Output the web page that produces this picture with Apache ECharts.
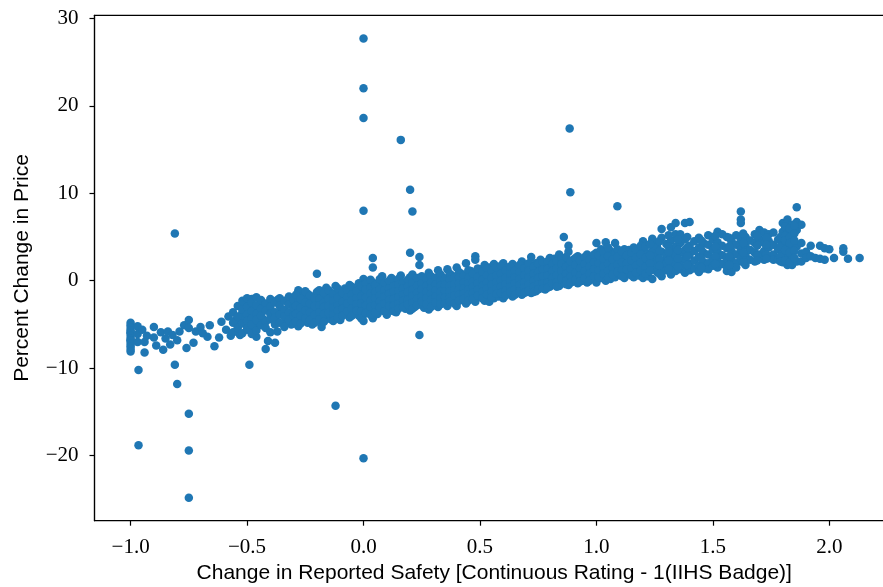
<!DOCTYPE html>
<html>
<head>
<meta charset="utf-8">
<script src="https://cdn.jsdelivr.net/npm/echarts@6/dist/echarts.min.js"></script>
<style>
html,body{margin:0;padding:0;background:#fff;}
#chart{width:883px;height:587px;}
</style>
</head>
<body>
<div id="chart"></div>
<script>
// ---- data ----
const xTicks = [-1.0, -0.5, 0.0, 0.5, 1.0, 1.5, 2.0];
const yTicks = [-20, -10, 0, 10, 20, 30];
const xTitle = 'Change in Reported Safety [Continuous Rating - 1(IIHS Badge)]';
const yTitle = 'Percent Change in Price';

// points sitting exactly at x = -1.0
const columnX = -1.0;
const columnY = [-4.8,-5.1,-5.4,-5.7,-5.9,-6.0,-6.3,-6.6,-6.8,-6.9,-7.2,-7.5,-7.8,-8.1];

// sparse left part of the cloud [x, y]
const leftPoints = [
[-0.97,-5.2],[-0.97,-6.1],[-0.97,-7.0],[-0.95,-5.6],[-0.94,-7.0],[-0.94,-8.2],[-0.93,-6.3],
[-0.90,-5.3],[-0.90,-6.5],[-0.89,-7.4],[-0.87,-5.9],[-0.86,-7.9],[-0.85,-6.6],[-0.84,-5.8],
[-0.83,-7.3],[-0.82,-6.2],[-0.80,-6.8],[-0.79,-5.8],[-0.77,-5.1],[-0.75,-4.5],[-0.75,-5.4],
[-0.76,-7.7],[-0.73,-7.1],[-0.72,-5.8],[-0.70,-5.3],[-0.69,-6.0],[-0.67,-6.4],[-0.66,-5.1],
[-0.64,-7.5],[-0.62,-6.5],[-0.61,-4.7],[-0.59,-5.6],[-0.58,-4.1],[-0.57,-6.3],[-0.55,-4.5],
[-0.54,-5.2],[-0.53,-6.2],[-0.52,-4.5],[-0.52,-3.6],[-0.51,-2.6],[-0.50,-5.6],[-0.49,-3.2],
[-0.48,-5.3],[-0.48,-2.1],[-0.47,-4.2],[-0.46,-6.4],[-0.46,-3.0],[-0.45,-5.0],[-0.44,-2.4],
[-0.43,-4.4],[-0.42,-7.8],[-0.41,-6.9],[-0.38,-7.1],[-0.37,-5.8],[-0.37,-2.2],
[-0.35,-3.4],[-0.33,-4.6],[-0.31,-2.5],[-0.31,-5.0]
];

// dense band, even hundredths: [x, [y values at that x]]
const bandGroups = [
[-0.56,[-3.6,-4.8,-5.9]],
[-0.54,[-2.9,-4.1,-5.4]],
[-0.52,[-2.3,-3.3,-4.9,-6.0]],
[-0.50,[-2.0,-3.0,-3.9,-4.6,-5.5]],
[-0.48,[-2.5,-3.5,-4.3,-5.0,-6.1]],
[-0.46,[-1.9,-2.8,-3.8,-4.5,-5.7]],
[-0.44,[-2.2,-3.2,-4.0,-5.1]],
[-0.42,[-2.6,-3.4,-4.7,-5.4]],
[-0.40,[-2.1,-3.0,-3.8,-4.4,-5.9]],
[-0.38,[-2.5,-3.6,-4.2,-5.0]],
[-0.36,[-2.0,-2.9,-3.9,-4.8]],
[-0.34,[-2.3,-3.3,-4.1,-5.3]],
[-0.32,[-1.8,-2.7,-3.6,-4.5]],
[-0.30,[-2.2,-3.1,-4.0,-4.9]],
[-0.28,[-1.1,-2.4,-3.4,-4.3,-5.2]],
[-0.26,[-1.7,-2.6,-3.6,-4.4]],
[-0.24,[-1.5,-2.2,-3.0,-3.9,-4.8]],
[-0.22,[-1.9,-2.8,-3.3,-4.2,-5.0]],
[-0.20,[0.8,-1.3,-2.5,-3.1,-3.7,-4.6]],
[-0.18,[-1.6,-2.3,-3.4,-4.1,-5.3]],
[-0.16,[-0.8,-1.9,-2.7,-3.2,-4.0]],
[-0.14,[-1.4,-2.4,-3.5,-4.4]],
[-0.12,[-0.6,-1.7,-2.9,-3.3,-4.0]],
[-0.10,[-1.2,-2.1,-2.6,-3.6,-4.5]],
[-0.08,[-0.9,-1.6,-2.3,-3.0,-3.8]],
[-0.06,[-0.5,-1.3,-2.0,-2.8,-3.4,-4.2]],
[-0.04,[-1.0,-1.8,-2.5,-3.1,-3.7]],
[-0.02,[-0.3,-1.4,-2.2,-2.9,-4.0]],
[0.00,[0.2,-0.8,-1.2,-1.6,-2.4,-3.2,-3.9,-4.6]],
[0.02,[-0.6,-1.3,-2.0,-2.7,-3.5]],
[0.04,[2.6,1.5,-0.2,-1.0,-1.8,-2.6,-3.3,-4.3]],
[0.06,[-0.7,-1.5,-2.2,-2.9,-3.8]],
[0.08,[0.5,-0.4,-1.2,-2.0,-2.5,-3.4]],
[0.10,[-0.8,-1.6,-2.3,-3.0,-3.9]],
[0.12,[0.3,-0.5,-1.3,-1.9,-2.7,-3.3]],
[0.14,[-0.2,-1.0,-1.7,-2.4,-3.6]],
[0.16,[0.6,-0.7,-1.4,-2.1,-2.8]],
[0.18,[-0.3,-1.1,-1.8,-2.5,-3.2]],
[0.20,[3.2,0.4,-0.6,-1.4,-2.0,-2.9,-3.4]],
[0.22,[-0.1,-0.9,-1.6,-2.3,-3.0]],
[0.24,[2.7,1.8,0.2,-0.5,-1.2,-1.9,-2.6,-6.2]],
[0.26,[-0.2,-0.9,-1.5,-2.2,-3.1]],
[0.28,[0.9,-0.4,-1.1,-1.7,-2.4,-3.3]],
[0.30,[0.1,-0.6,-1.3,-2.0,-2.8]],
[0.32,[1.2,-0.1,-0.9,-1.5,-2.2,-3.0]],
[0.34,[0.4,-0.4,-1.1,-1.8,-2.5]],
[0.36,[1.3,0.0,-0.7,-1.4,-2.0,-2.9]],
[0.38,[0.6,-0.3,-1.0,-1.6,-2.4]],
[0.40,[1.5,0.2,-0.6,-1.2,-1.9,-2.9]],
[0.42,[0.8,-0.1,-0.8,-1.5,-2.2]],
[0.44,[2.0,0.5,-0.4,-1.1,-1.7,-2.6]],
[0.46,[1.1,0.1,-0.6,-1.3,-2.0]],
[0.48,[2.8,2.4,0.7,-0.2,-0.9,-1.6,-2.4]],
[0.50,[1.3,0.3,-0.5,-1.1,-1.8]],
[0.52,[1.8,0.9,0.0,-0.8,-1.4,-2.3]],
[0.54,[1.5,0.5,-0.3,-1.0,-1.7,-2.4]],
[0.56,[1.9,0.8,0.1,-0.6,-1.3,-2.0]],
[0.58,[1.2,0.4,-0.4,-1.1,-1.8]],
[0.60,[2.0,1.0,0.2,-0.5,-1.2,-2.0]],
[0.62,[1.5,0.6,-0.2,-0.9,-1.5]],
[0.64,[1.9,1.1,0.3,-0.4,-1.1,-1.8]],
[0.66,[1.4,0.7,-0.1,-0.8,-1.4]],
[0.68,[2.2,1.2,0.4,-0.3,-1.0,-1.6]],
[0.70,[1.7,0.9,0.1,-0.6,-1.3]],
[0.72,[2.7,1.5,0.6,-0.2,-0.9,-1.4]],
[0.74,[2.0,1.1,0.3,-0.5,-1.2]],
[0.76,[2.4,1.4,0.7,-0.1,-0.8]],
[0.78,[1.8,1.0,0.2,-0.6,-1.0]],
[0.80,[2.6,1.6,0.8,0.0,-0.7]],
[0.82,[2.5,2.0,1.2,0.4,-0.4]],
[0.84,[3.0,1.7,0.9,0.1,-0.6]],
[0.86,[5.0,2.3,1.4,0.5,-0.2]],
[0.88,[4.0,3.3,1.9,1.0,0.2,-0.5]],
[0.90,[2.4,1.5,0.7,-0.1]],
[0.92,[2.8,2.0,1.1,0.3,-0.3]],
[0.94,[2.5,1.6,0.8,0.0]],
[0.96,[3.0,2.1,1.3,0.5,-0.2]],
[0.98,[2.7,1.9,1.0,0.2]],
[1.00,[4.3,3.2,2.4,1.5,0.7,-0.2]],
[1.02,[3.6,2.8,1.8,1.1,0.3]],
[1.04,[4.4,3.0,2.2,1.4,0.5,0.0]],
[1.06,[3.4,2.6,1.7,0.9,0.2]],
[1.08,[4.3,3.1,2.0,1.2,0.4]],
[1.10,[3.0,2.3,1.5,0.7]],
[1.12,[3.6,2.7,1.8,0.9,0.3]],
[1.14,[3.5,2.4,1.6,0.8]],
[1.16,[3.8,2.9,2.0,1.1,0.4]],
[1.18,[3.3,2.5,1.4,0.6]],
[1.20,[4.5,3.6,2.8,1.8,0.9,0.3]],
[1.22,[3.1,2.2,1.3,0.5]],
[1.24,[4.8,4.5,3.4,2.5,1.6,0.2]],
[1.26,[3.9,2.8,1.9,1.0]],
[1.28,[5.9,4.9,3.3,2.3,1.4,0.5]],
[1.30,[4.2,3.0,2.0,1.2]],
[1.32,[6.1,4.6,3.6,2.6,1.6,0.7]],
[1.34,[6.6,5.3,3.9,2.9,1.9,1.1]],
[1.36,[5.3,4.3,3.2,2.2,1.3]],
[1.38,[6.6,4.7,3.5,2.5,1.5,0.9]],
[1.40,[6.7,4.0,3.0,1.9,1.2]],
[1.42,[4.5,3.4,2.3,1.4]],
[1.44,[4.9,3.8,2.7,1.7,1.0]],
[1.46,[4.3,3.2,2.1,1.4]],
[1.48,[5.2,4.1,3.0,2.0,1.3]],
[1.50,[4.7,3.6,2.5,1.7]],
[1.52,[5.6,4.4,3.3,2.2,1.5]],
[1.54,[5.3,4.0,2.9,1.9]],
[1.56,[5.0,3.7,2.6,1.6,1.1]],
[1.58,[4.5,3.4,2.3,1.0]],
[1.60,[5.2,4.1,3.0,2.0,1.5]],
[1.62,[7.9,7.0,6.6,4.8,3.6,2.5]],
[1.64,[5.0,4.0,2.9,1.8]],
[1.66,[4.6,3.5,2.4]],
[1.68,[5.3,4.3,3.2,2.2]],
[1.70,[5.8,4.8,3.0,2.6]],
[1.72,[5.5,4.3,3.4,2.4]],
[1.74,[5.3,4.5,3.8,2.6]],
[1.76,[5.5,4.1,3.0,2.4]],
[1.78,[4.7,3.6,2.4]],
[1.80,[6.6,5.6,4.4,3.2,2.1]],
[1.82,[7.0,6.6,5.5,4.1,2.8,1.8]],
[1.84,[6.4,5.2,3.7,2.4,1.8]],
[1.86,[8.4,6.7,5.8,3.9,2.2]],
[1.88,[6.4,4.3,3.1,2.2]],
[1.90,[3.3,2.6]],
[1.92,[4.0,2.8]],
[1.94,[2.6]],
[1.96,[4.0,2.5]],
[1.98,[3.7,2.4]],
[2.00,[3.6]],
[2.02,[2.6]],
[2.06,[3.7,3.3]],
[2.08,[2.5]],
[2.13,[2.6]]
];

// dense band, odd hundredths: [x, [y values at that x]]
const bandGroupsOdd = [
[-0.29,[-1.6,-2.9,-3.8,-4.7]],
[-0.27,[-2.1,-3.1,-4.0,-4.9]],
[-0.25,[-1.2,-2.5,-3.4,-4.3]],
[-0.23,[-1.7,-2.6,-3.6,-4.5]],
[-0.21,[-2.0,-2.9,-3.9,-4.8]],
[-0.19,[-1.1,-2.1,-2.8,-3.6,-4.4]],
[-0.17,[-1.4,-2.5,-3.0,-3.8,-4.7]],
[-0.15,[-1.1,-2.1,-2.9,-3.7]],
[-0.13,[-1.5,-2.3,-3.1,-3.9,-4.6]],
[-0.11,[-0.9,-1.9,-2.8,-3.4,-4.2]],
[-0.09,[-1.4,-2.4,-3.2,-4.0]],
[-0.07,[-1.1,-1.9,-2.6,-3.5]],
[-0.05,[-0.7,-1.6,-2.3,-3.2,-4.0]],
[-0.03,[-1.2,-2.0,-2.7,-3.4]],
[-0.01,[-0.6,-1.8,-2.6,-3.5,-4.3]],
[0.01,[-0.3,-1.0,-1.9,-2.8,-3.7]],
[0.03,[0.1,-0.8,-1.5,-2.3,-3.0,-3.9]],
[0.05,[-0.5,-1.3,-2.0,-2.8,-3.6]],
[0.07,[0.2,-1.0,-1.7,-2.4,-3.1]],
[0.09,[-0.2,-1.1,-1.8,-2.6,-3.5]],
[0.11,[0.0,-0.9,-1.5,-2.2,-2.9]],
[0.13,[-0.6,-1.2,-2.1,-2.8,-3.5]],
[0.15,[0.2,-0.5,-1.2,-1.9,-2.6,-3.2]],
[0.17,[-0.2,-0.9,-1.6,-2.3,-3.0]],
[0.19,[0.1,-0.7,-1.3,-2.2,-2.7]],
[0.21,[0.7,-0.3,-1.0,-1.7,-2.5,-3.2]],
[0.23,[0.3,-0.6,-1.4,-2.1,-2.8]],
[0.25,[0.5,-0.3,-1.0,-1.8,-2.4]],
[0.27,[0.2,-0.6,-1.3,-2.0,-2.7]],
[0.29,[0.5,-0.2,-0.9,-1.5,-2.2,-3.0]],
[0.31,[0.3,-0.4,-1.1,-1.8,-2.5]],
[0.33,[0.7,0.0,-0.6,-1.3,-2.0,-2.7]],
[0.35,[0.2,-0.5,-1.2,-1.9,-2.6]],
[0.37,[0.8,0.1,-0.6,-1.2,-1.9,-2.4]],
[0.39,[0.3,-0.4,-1.1,-1.7,-2.6]],
[0.41,[1.0,0.4,-0.3,-1.0,-1.6,-2.3]],
[0.43,[0.6,-0.2,-0.9,-1.5,-2.1]],
[0.45,[1.2,0.3,-0.3,-1.0,-1.6,-2.3]],
[0.47,[0.8,-0.1,-0.7,-1.4,-2.1]],
[0.49,[1.4,0.4,-0.3,-1.0,-1.7]],
[0.51,[1.0,0.1,-0.6,-1.3,-2.0]],
[0.53,[1.4,0.6,-0.2,-0.9,-1.6]],
[0.55,[1.1,0.3,-0.5,-1.2,-1.9]],
[0.57,[1.5,0.6,-0.2,-0.9,-1.5]],
[0.59,[1.7,0.8,0.0,-0.7,-1.4]],
[0.61,[1.2,0.3,-0.4,-1.1,-1.7]],
[0.63,[1.6,0.8,0.0,-0.7,-1.3]],
[0.65,[1.2,0.4,-0.3,-1.0,-1.6]],
[0.67,[1.8,1.0,0.2,-0.5,-1.2]],
[0.69,[1.4,0.6,-0.2,-0.8,-1.4]],
[0.71,[2.0,1.2,0.4,-0.4,-1.1]],
[0.73,[1.6,0.8,0.0,-0.7,-1.3]],
[0.75,[1.9,1.0,0.3,-0.4,-1.0]],
[0.77,[2.1,1.3,0.5,-0.3,-0.9]],
[0.79,[2.2,1.4,0.6,-0.2,-0.8]],
[0.81,[1.9,1.1,0.3,-0.3]],
[0.83,[2.2,1.4,0.6,-0.2,-0.7]],
[0.85,[2.6,1.9,1.1,0.3]],
[0.87,[2.7,1.6,0.8,0.0,-0.4]],
[0.89,[2.2,1.3,0.5,-0.2]],
[0.91,[2.6,1.8,0.9,0.1]],
[0.93,[2.3,1.4,0.6,-0.1]],
[0.95,[2.7,1.9,1.1,0.3]],
[0.97,[2.4,1.6,0.8,0.0]],
[0.99,[3.0,2.1,1.3,0.5]],
[1.01,[2.9,2.0,1.2,0.4]],
[1.03,[3.3,2.5,1.6,0.8]],
[1.05,[3.8,2.8,1.9,1.1,0.3]],
[1.07,[2.4,1.5,0.7]],
[1.09,[3.6,2.7,1.8,1.0]],
[1.11,[3.3,2.1,1.2,0.5]],
[1.13,[2.9,2.0,1.3]],
[1.15,[3.2,2.3,1.4,0.6]],
[1.17,[3.5,2.6,1.7,0.9]],
[1.19,[4.0,3.0,2.1,1.2]],
[1.21,[3.9,2.6,1.6,0.8]],
[1.23,[4.2,2.9,2.0,1.1]],
[1.27,[4.5,3.4,2.5,1.7,0.8]],
[1.31,[5.2,3.9,3.3,2.3,1.3]],
[1.35,[4.7,3.5,2.5,1.6]],
[1.39,[5.0,3.8,2.8,1.8]],
[1.45,[4.6,3.6,2.5,1.5]],
[1.51,[5.1,3.9,2.8,1.9]],
[1.57,[4.9,3.9,2.8,1.8]],
[1.63,[5.4,4.3,3.2,2.1]],
[1.69,[5.1,4.0,2.9,2.3]],
[1.73,[4.9,4.1,3.0,2.5]],
[1.79,[5.0,3.9,2.8,2.2]],
[1.81,[6.2,5.1,4.6,3.5,2.3]],
[1.83,[6.0,4.9,4.3,3.2,2.1]],
[1.85,[6.3,5.4,4.6,3.4,2.6]]
];

// isolated outliers [x, y]
const outliers = [
[-0.966,-10.2],[-0.966,-18.8],[-0.81,5.4],[-0.81,-9.6],[-0.80,-11.8],
[-0.75,-15.2],[-0.75,-19.4],[-0.75,-24.8],[-0.49,-9.6],[-0.12,-14.3],
[0.0,-20.3],[0.0,27.7],[0.0,22.0],[0.0,18.6],[0.0,8.0],
[0.16,16.1],[0.20,10.4],[0.21,7.9],[0.885,17.4],[0.888,10.1],[1.09,8.5]
];

// ---- assemble ----
const points = [];
columnY.forEach(y => points.push([columnX, y]));
leftPoints.forEach(p => points.push(p));
bandGroups.forEach(g => g[1].forEach(y => points.push([g[0], y])));
bandGroupsOdd.forEach(g => g[1].forEach(y => points.push([g[0], y])));
outliers.forEach(p => points.push(p));

const minus = s => String(s).replace('-', '\u2212');
const tickFont = {fontFamily: '"Liberation Serif", "DejaVu Serif", serif', fontSize: 21, color: '#000'};
const nameFont = {fontFamily: '"Liberation Sans", Arial, sans-serif', fontSize: 21, color: '#000'};

const chart = echarts.init(document.getElementById('chart'), null, {renderer: 'canvas'});
chart.setOption({
  animation: false,
  backgroundColor: '#fff',
  grid: {left: 94.5, top: 15.3, width: 799.5, bottom: 66.3, outerBoundsMode: 'none', containLabel: false,
         show: true, borderColor: '#000', borderWidth: 1.2, backgroundColor: 'transparent'},
  xAxis: {
    type: 'value', min: -1.155, max: 2.2776,
    name: xTitle, nameLocation: 'middle', nameGap: 36, nameTextStyle: nameFont,
    axisLine: {show: true, onZero: false, lineStyle: {color: '#000', width: 1.2}},
    axisTick: {show: true, inside: false, length: 5, lineStyle: {color: '#000', width: 1.2}, customValues: xTicks},
    axisLabel: Object.assign({margin: 16, customValues: xTicks, formatter: v => minus(Number(v).toFixed(1))}, tickFont),
    splitLine: {show: false}
  },
  yAxis: {
    type: 'value', min: -27.43, max: 30.34,
    name: yTitle, nameLocation: 'middle', nameGap: 62, nameTextStyle: nameFont,
    axisLine: {show: true, onZero: false, lineStyle: {color: '#000', width: 1.2}},
    axisTick: {show: true, inside: false, length: 5, lineStyle: {color: '#000', width: 1.2}, customValues: yTicks},
    axisLabel: Object.assign({margin: 16, customValues: yTicks, formatter: v => minus(v)}, tickFont),
    splitLine: {show: false}
  },
  series: [{
    type: 'scatter',
    data: points,
    symbol: 'circle',
    symbolSize: 8.5,
    itemStyle: {color: '#1f77b4', opacity: 1},
    emphasis: {disabled: true}
  }]
});
</script>
</body>
</html>
